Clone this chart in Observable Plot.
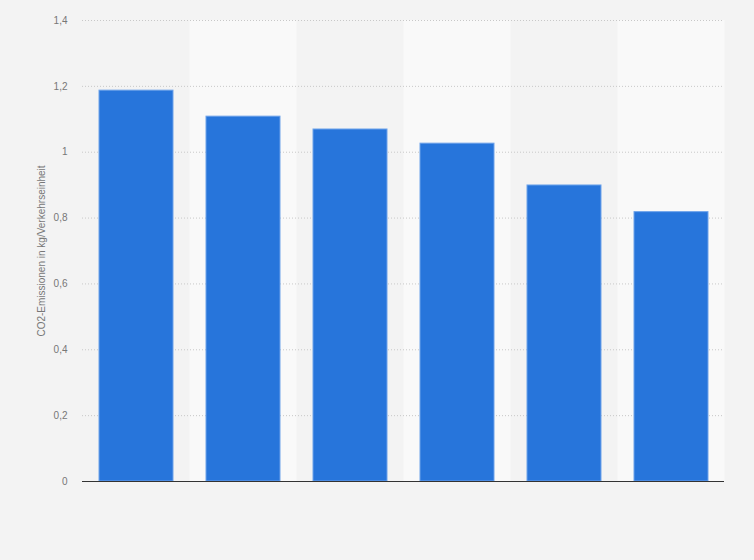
<!DOCTYPE html>
<html>
<head>
<meta charset="utf-8">
<script src="https://cdn.jsdelivr.net/npm/d3@7"></script>
<script src="https://cdn.jsdelivr.net/npm/@observablehq/plot@0.6"></script>
<style>
  html, body { margin: 0; padding: 0; background: #f3f3f3; }
  #chart { width: 754px; height: 560px; }
  svg { display: block; }
</style>
</head>
<body>
<div id="chart"></div>
<script>
const categories = ["1", "2", "3", "4", "5", "6"];
const values = [1.187, 1.108, 1.069, 1.026, 0.899, 0.818];
const yTicks = [0, 0.2, 0.4, 0.6, 0.8, 1, 1.2, 1.4];
const yLabel = "CO2-Emissionen in kg/Verkehrseinheit";

const data = categories.map((c, i) => ({ cat: c, value: values[i], band: i % 2 === 1 }));

const W = 754, H = 560, mL = 82, mR = 30, mT = 20, mB = 79;
const pad = 0.31;
const step = (W - mL - mR) / categories.length;
const bandInset = -step * pad / 2;

const chart = Plot.plot({
  width: W,
  height: H,
  marginLeft: mL,
  marginRight: mR,
  marginTop: mT,
  marginBottom: mB,
  style: { background: "#f3f3f3", fontFamily: "'Liberation Sans', Arial, sans-serif", fontSize: "10px", color: "#777" },
  x: { domain: categories, paddingInner: pad, paddingOuter: pad / 2, axis: null },
  y: { domain: [0, 1.4], ticks: yTicks, label: null },
  marks: [
    Plot.barY(data.filter(d => d.band), { x: "cat", y1: 0, y2: 1.4, fill: "#f9f9f9", insetLeft: bandInset, insetRight: bandInset }),
    Plot.gridY(yTicks.filter(t => t > 0), { stroke: "#c8c8c8", strokeOpacity: 1, strokeDasharray: "1,2" }),
    Plot.axisY({ ticks: yTicks, tickSize: 0, tickPadding: 15, tickFormat: d => String(d).replace(".", ","), fill: "#777", fontSize: 10, label: null }),
    Plot.text([yLabel], { frameAnchor: "left", dx: -41, rotate: -90, fill: "#777", fontSize: 10, textAnchor: "middle" }),
    Plot.barY(data, { x: "cat", y: "value", fill: "#2775db", stroke: "#6ea3ea", strokeWidth: 1 }),
    Plot.ruleY([0], { stroke: "#333", strokeWidth: 1.2 })
  ]
});
document.getElementById("chart").appendChild(chart);
</script>
</body>
</html>
